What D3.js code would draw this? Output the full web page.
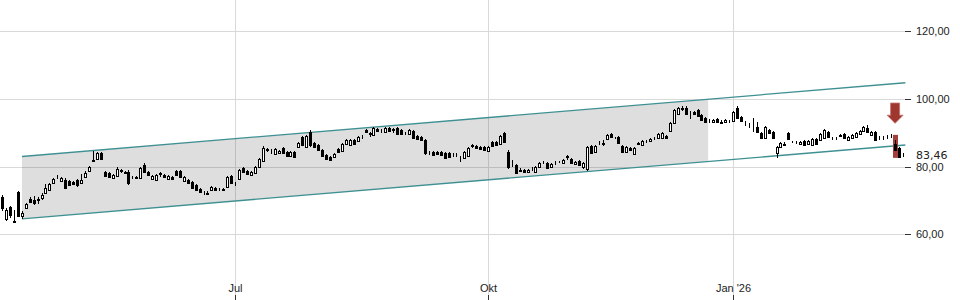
<!DOCTYPE html>
<html>
<head>
<meta charset="utf-8">
<script src="https://cdn.jsdelivr.net/npm/d3@7"></script>
<style>
  body { margin: 0; background: #fff; }
  svg { display: block; font-family: "DejaVu Sans", sans-serif; }
  .axis text { font-size: 11px; fill: #222; }
  .axis line { stroke: #333; }
  .axis path { display: none; }
</style>
</head>
<body>
<div id="chart"></div>
<script>
// daily candles [open, high, low, close]
const candles = [
  [71.0,71.6,66.9,67.8],[64.6,67.8,64.0,67.2],[68.1,68.4,64.9,65.7],[64.0,67.2,63.4,63.7],[72.5,72.8,65.1,65.4],
  [65.4,66.9,64.6,66.3],[67.8,69.3,67.5,69.0],[70.5,71.0,69.3,69.6],[70.2,71.3,68.7,69.3],[70.2,71.0,69.0,70.4],
  [70.8,72.2,70.2,71.6],[72.2,74.9,72.0,73.7],[73.1,75.2,72.8,74.9],[75.2,76.7,74.9,76.4],[77.2,77.6,76.4,77.3],
  [75.8,77.0,75.5,76.7],[76.1,76.7,73.4,73.7],[75.8,76.1,74.3,74.6],[75.5,75.8,74.6,74.9],[76.1,76.4,74.0,74.6],
  [75.2,77.9,74.9,76.1],[77.0,78.7,76.7,78.1],[78.7,80.2,78.4,79.9],[82.0,84.6,81.5,81.7],[82.3,84.3,82.0,84.1],
  [84.1,84.3,82.0,82.3],[78.4,78.7,77.0,77.3],[78.1,78.4,76.7,77.0],[76.7,77.9,76.4,77.6],[77.3,79.9,77.0,79.3],
  [78.7,79.3,78.1,78.9],[78.2,78.7,77.9,78.3],[78.4,78.9,74.6,75.2],[76.8,77.3,76.4,76.9],[76.8,77.2,76.3,76.7],
  [76.7,79.9,76.4,79.6],[80.5,81.1,78.1,78.4],[78.4,78.7,77.2,77.6],[76.4,77.6,76.1,77.3],[76.1,77.9,75.8,77.6],
  [77.9,78.4,76.9,78.0],[77.6,77.9,76.6,76.9],[76.4,77.6,76.1,77.3],[77.0,77.3,76.1,76.4],[78.7,79.0,77.2,77.6],
  [78.7,79.0,76.7,77.0],[75.8,77.3,75.5,77.0],[76.1,76.4,74.9,75.2],[75.5,75.8,73.4,73.7],[74.6,74.9,72.8,73.1],
  [73.4,73.7,72.2,72.5],[72.3,72.8,71.6,72.2],[72.0,72.8,71.9,72.1],[73.1,74.3,72.8,74.0],[73.7,74.0,72.8,73.1],
  [73.4,73.6,72.8,73.3],[73.2,73.6,72.9,73.3],[74.0,77.3,73.7,77.0],[77.3,77.6,74.9,75.2],[75.3,75.5,74.3,75.1],
  [76.4,79.3,76.1,79.0],[79.6,79.9,78.1,78.4],[78.7,79.0,77.6,77.9],[77.6,78.7,77.2,78.4],[78.1,80.2,77.9,79.9],
  [79.9,82.6,79.6,82.3],[81.7,86.1,81.4,85.5],[85.0,85.5,84.4,85.1],[85.0,85.2,83.6,84.9],[83.8,85.5,83.5,85.2],
  [84.1,84.9,83.8,84.6],[85.5,85.8,83.8,84.1],[84.3,84.6,82.9,83.2],[83.2,84.6,82.9,84.3],[84.3,84.6,82.6,82.9],
  [85.8,87.3,85.5,87.0],[88.8,89.1,86.1,86.4],[85.8,89.4,85.5,89.1],[90.3,90.9,85.8,86.4],[87.0,87.3,85.5,85.8],
  [86.4,86.7,84.6,84.9],[84.9,85.2,82.9,83.2],[83.5,83.8,82.0,82.3],[82.9,83.2,81.7,82.0],[82.9,84.0,82.6,83.8],
  [85.2,85.5,84.0,84.3],[84.6,87.0,84.3,86.7],[86.7,88.2,86.4,87.9],[86.4,88.2,86.1,87.9],[87.9,88.2,86.4,86.7],
  [87.6,89.1,87.3,88.8],[88.7,89.4,88.2,88.8],[90.9,91.1,90.0,90.3],[89.9,90.2,88.9,89.8],[89.4,91.7,89.1,91.4],
  [91.1,91.4,90.3,90.6],[90.8,91.1,90.0,90.7],[90.3,91.7,90.0,91.4],[91.4,91.7,90.3,90.6],[91.0,91.3,90.0,90.9],
  [91.4,91.7,89.4,89.7],[90.9,91.1,89.4,89.7],[89.9,90.3,89.4,90.0],[89.7,91.1,89.4,90.9],[90.6,90.9,88.2,88.5],
  [89.1,89.4,87.9,88.2],[88.8,89.1,87.6,87.9],[87.9,88.2,83.5,84.1],[84.3,84.6,83.5,84.2],[84.3,84.6,83.2,83.5],
  [84.3,84.6,83.5,83.8],[84.3,84.6,83.2,83.5],[84.1,84.3,82.3,82.6],[84.1,84.3,82.6,82.9],[83.5,84.0,82.9,83.4],
  [83.4,84.0,82.9,83.5],[82.9,83.2,81.4,82.8],[82.6,84.6,82.3,84.3],[83.2,85.8,82.9,85.5],[86.2,86.7,85.5,86.3],
  [86.1,86.4,85.2,85.5],[85.8,86.1,84.9,85.2],[85.8,86.1,84.6,84.9],[84.6,86.1,84.3,85.8],[87.3,87.6,85.8,86.1],
  [87.3,87.6,86.1,86.4],[86.7,89.4,86.4,89.1],[89.9,90.3,87.0,87.3],[84.3,84.9,79.3,79.9],[80.2,82.0,79.9,80.1],
  [80.5,80.8,77.9,78.1],[78.9,79.6,78.7,78.8],[79.0,79.3,78.1,78.4],[78.4,79.3,78.1,79.0],[79.6,79.9,78.7,79.5],
  [78.4,80.2,78.1,79.9],[79.9,81.4,79.6,81.1],[81.3,81.7,80.8,81.4],[81.1,81.4,79.3,79.6],[79.9,81.1,79.6,80.8],
  [81.1,81.7,80.5,81.2],[81.4,81.7,81.1,81.5],[81.1,82.3,80.8,82.0],[83.1,83.5,82.0,83.0],[82.3,82.6,80.8,81.1],
  [80.8,81.7,80.5,81.4],[81.7,82.0,80.2,80.5],[79.9,81.4,79.3,81.1],[79.3,86.1,78.7,85.8],[86.1,86.4,83.8,84.1],
  [84.3,86.4,84.0,86.1],[86.9,87.6,86.4,87.0],[86.8,87.9,86.1,86.9],[88.2,89.7,87.9,89.4],[89.7,90.0,88.5,88.8],
  [88.5,88.8,88.2,88.4],[88.8,89.1,86.7,87.0],[86.1,86.4,84.0,84.3],[84.3,86.1,84.0,85.8],[85.5,85.8,84.6,84.9],
  [83.8,85.8,83.5,85.5],[86.8,87.3,86.4,86.9],[86.4,87.9,86.1,87.6],[87.6,87.9,86.9,87.5],[87.6,88.5,87.3,88.2],
  [88.5,88.8,87.9,88.4],[88.5,90.0,88.2,89.7],[88.5,90.3,88.2,90.0],[89.1,89.4,88.2,88.5],[90.6,93.2,90.3,92.9],
  [92.9,97.0,92.6,96.8],[95.6,97.6,95.3,97.3],[97.1,97.9,96.5,97.2],[97.3,97.9,95.3,95.6],[95.9,96.5,94.1,96.0],
  [96.2,96.5,95.3,95.6],[96.8,97.0,94.7,95.0],[95.3,95.6,93.5,93.8],[94.4,94.7,92.9,93.2],[93.5,94.1,92.9,93.4],
  [93.2,94.1,92.9,93.8],[94.1,94.4,92.9,93.2],[93.0,93.8,92.9,93.1],[93.2,94.1,92.9,93.8],[93.1,93.8,92.9,93.2],
  [93.5,96.5,93.2,96.2],[97.3,97.9,94.1,94.4],[94.7,95.0,93.2,93.5],[92.9,93.5,92.0,92.8],[92.3,92.9,91.4,92.2],
  [90.8,94.4,90.3,90.7],[91.7,93.2,90.0,90.3],[89.9,90.3,88.2,88.5],[88.5,92.0,88.2,91.7],[90.9,91.1,89.7,90.0],
  [90.3,90.6,88.2,88.5],[84.1,86.1,82.6,85.8],[85.8,87.3,85.5,87.0],[86.5,87.3,86.1,86.6],[89.9,90.3,87.9,88.2],
  [87.3,87.6,86.9,87.2],[87.2,87.6,86.7,87.3],[86.7,87.6,86.4,87.3],[87.6,87.9,86.1,86.4],[86.7,87.9,86.4,87.6],
  [86.4,88.5,86.1,88.2],[88.2,88.5,86.4,86.7],[87.9,90.0,87.6,89.7],[88.5,91.1,88.2,90.9],[90.3,90.6,88.5,88.8],
  [88.3,88.8,87.9,88.2],[88.4,88.8,87.9,88.5],[89.3,89.7,88.8,89.2],[89.7,90.0,88.2,88.5],[87.9,89.1,87.6,88.8],
  [88.5,89.7,88.2,89.4],[88.8,90.3,88.5,90.0],[89.7,90.9,89.4,90.6],[90.6,92.0,90.3,91.7],[91.4,92.3,90.0,90.3],
  [89.4,90.6,89.1,90.3],[90.3,90.6,87.6,87.9],[88.2,89.1,88.0,88.3],[88.2,89.1,88.0,88.3],[88.4,89.4,88.2,88.5],
  [88.8,89.7,88.5,88.9],[86.7,87.9,84.6,84.9],[85.5,85.8,82.6,82.9],[83.4,84.1,82.9,83.46]
];

// x axis: candle index of first trading day of the month
const xTickIdx = [59, 123, 185];
const xTickLabels = ["Jul", "Okt", "Jan '26"];
const yTicks = [60, 80, 100, 120];

// trend channel (index, upper, lower)
const channelIdx = [5.05, 228.6];
const channelUpper = [83.0, 104.8];
const channelLower = [64.6, 86.4];
const channelFillEnd = 178.7;

// sell signal
const signalIdx = 226;
const signalBox = [89.4, 82.6];
const signalArrow = [98.8, 92.8];
const lastPrice = 83.46;

const width = 960, height = 300;
const plotRight = 905;

const svg = d3.select("#chart").append("svg")
  .attr("width", width)
  .attr("height", height);

const x = d3.scaleLinear().domain([0, candles.length - 1]).range([2, 903]);
const y = d3.scaleLinear().domain([40.6, 129.25]).range([height, 0]);

const de = d3.formatLocale({decimal: ",", thousands: ".", grouping: [3], currency: ["", "€"]});
const fmt = de.format(".2f");
const px = v => Math.round(v) + 0.5;

// grid
svg.append("g").selectAll("line").data(yTicks).enter().append("line")
  .attr("x1", 0).attr("x2", plotRight)
  .attr("y1", d => px(y(d))).attr("y2", d => px(y(d)))
  .attr("stroke", "#d9d9d9");
svg.append("g").selectAll("line").data(xTickIdx).enter().append("line")
  .attr("x1", d => px(x(d))).attr("x2", d => px(x(d)))
  .attr("y1", 0).attr("y2", height)
  .attr("stroke", "#d9d9d9");

// channel
const lerp = (a, b, t) => a + (b - a) * t;
const tEnd = (channelFillEnd - channelIdx[0]) / (channelIdx[1] - channelIdx[0]);
const poly = [
  [x(channelIdx[0]), y(channelUpper[0])],
  [x(channelFillEnd), y(lerp(channelUpper[0], channelUpper[1], tEnd))],
  [x(channelFillEnd), y(lerp(channelLower[0], channelLower[1], tEnd))],
  [x(channelIdx[0]), y(channelLower[0])]
];
svg.append("path")
  .attr("d", "M" + poly.join("L") + "Z")
  .attr("fill", "#000")
  .attr("fill-opacity", 0.13);

[channelUpper, channelLower].forEach(function (c) {
  svg.append("line")
    .attr("x1", x(channelIdx[0])).attr("y1", y(c[0]))
    .attr("x2", x(channelIdx[1])).attr("y2", y(c[1]))
    .attr("stroke", "#3f9092")
    .attr("stroke-width", 1.3);
});

// signal box behind the candle
svg.append("rect")
  .attr("x", Math.round(x(signalIdx)) - 2)
  .attr("width", 5)
  .attr("y", y(signalBox[0]))
  .attr("height", y(signalBox[1]) - y(signalBox[0]))
  .attr("fill", "#a3403b");

// candles
const cg = svg.append("g").attr("shape-rendering", "crispEdges");
const candle = cg.selectAll("g").data(candles).enter().append("g");
candle.append("line")
  .attr("x1", (d, i) => px(x(i))).attr("x2", (d, i) => px(x(i)))
  .attr("y1", d => Math.round(y(d[1]))).attr("y2", d => Math.round(y(d[2])))
  .attr("stroke", "#000");
candle.append("rect")
  .attr("x", (d, i) => Math.round(x(i)) - 0.5)
  .attr("width", 2)
  .attr("y", d => Math.round(y(Math.max(d[0], d[3]))) + 0.5)
  .attr("height", d => Math.max(0, Math.round(y(Math.min(d[0], d[3]))) - Math.round(y(Math.max(d[0], d[3])))))
  .attr("fill", d => d[3] >= d[0] ? "#fff" : "#000")
  .attr("stroke", "#000");

// arrow
const ax = x(signalIdx), aTop = y(signalArrow[0]), aTip = y(signalArrow[1]);
const aNeck = aTip - (aTip - aTop) * 0.4;
svg.append("path")
  .attr("d", `M${ax - 4.5},${aTop}L${ax + 4.5},${aTop}L${ax + 4.5},${aNeck}L${ax + 8},${aNeck}`
    + `L${ax},${aTip}L${ax - 8},${aNeck}L${ax - 4.5},${aNeck}Z`)
  .attr("fill", "#a0372f")
  .attr("stroke", "#c0736d")
  .attr("stroke-width", 0.8);

// axes
svg.append("g")
  .attr("class", "axis")
  .attr("transform", `translate(${plotRight},0)`)
  .call(d3.axisRight(y).tickValues(yTicks).tickFormat(fmt).tickSize(6).tickPadding(5))
  .selectAll(".tick").attr("transform", d => `translate(0,${px(y(d))})`);

svg.append("g")
  .attr("class", "axis")
  .attr("transform", `translate(0,${height})`)
  .call(d3.axisTop(x).tickValues(xTickIdx).tickFormat((d, i) => xTickLabels[i]).tickSize(5).tickPadding(3))
  .selectAll(".tick").attr("transform", d => `translate(${px(x(d))},0)`);

svg.append("text")
  .attr("class", "axis")
  .attr("x", plotRight + 11)
  .attr("y", y(lastPrice))
  .attr("dy", "0.35em")
  .style("font-size", "11px")
  .style("fill", "#222")
  .text(fmt(lastPrice));
</script>
</body>
</html>
